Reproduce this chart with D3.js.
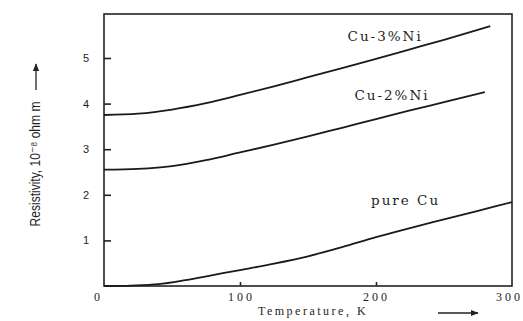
<!DOCTYPE html>
<html>
<head>
<meta charset="utf-8">
<script src="https://cdn.jsdelivr.net/npm/d3@7"></script>
<style>
  html, body { margin: 0; padding: 0; background: #fff; }
  svg { display: block; }
  .frame { fill: none; stroke: #222; stroke-width: 1.6; }
  .curve { fill: none; stroke: #1a1a1a; stroke-width: 1.8; }
  .serif { font-family: 'Liberation Serif', 'DejaVu Serif', serif; fill: #1e1e1e; }
  .wide { font-family: 'DejaVu Serif', 'Liberation Serif', serif; fill: #1e1e1e; }
  .sans { font-family: 'Liberation Sans', 'DejaVu Sans', sans-serif; fill: #1e1e1e; }
</style>
</head>
<body>
<script>
// Data (resistivity in 10^-8 ohm m, temperature in K)
var cu3Temp = [0, 25, 50, 75, 100, 125, 150, 175, 200, 225, 250, 284];
var cu3Val  = [3.75, 3.78, 3.87, 4.01, 4.19, 4.38, 4.58, 4.78, 4.98, 5.19, 5.40, 5.70];

var cu2Temp = [0, 25, 50, 75, 100, 125, 150, 175, 200, 225, 250, 280];
var cu2Val  = [2.55, 2.57, 2.63, 2.76, 2.93, 3.10, 3.28, 3.47, 3.66, 3.85, 4.03, 4.25];

var pureTemp = [0, 20, 40, 60, 80, 100, 125, 150, 175, 200, 225, 250, 275, 300];
var pureVal  = [0, 0.01, 0.04, 0.13, 0.24, 0.35, 0.49, 0.65, 0.85, 1.07, 1.27, 1.46, 1.65, 1.84];

var seriesNames = ['Cu-3%Ni', 'Cu-2%Ni', 'pure Cu'];
var xTickLabels = [0, 100, 200, 300];
var yTickLabels = [1, 2, 3, 4, 5];

// Chart definitions
var width = 523, height = 321;
var plot = { left: 104, right: 512, top: 14, bottom: 286 };

var svg = d3.select('body').append('svg')
  .attr('width', width)
  .attr('height', height);

var x = d3.scaleLinear().domain([0, 300]).range([plot.left, plot.right]);
var y = d3.scaleLinear().domain([0, 5]).range([plot.bottom, 58]);

// Box around the plot
svg.append('rect')
  .attr('class', 'frame')
  .attr('x', plot.left).attr('y', plot.top)
  .attr('width', plot.right - plot.left)
  .attr('height', plot.bottom - plot.top);

// Y axis: ticks point inward, labels sit to the left
var yAxis = svg.append('g')
  .attr('transform', 'translate(' + plot.left + ',0)')
  .call(d3.axisRight(y).tickValues(yTickLabels).tickSize(7).tickFormat(''));
yAxis.select('.domain').remove();
yAxis.selectAll('line').attr('stroke', '#222').attr('stroke-width', 1.6);

svg.selectAll('.ylab').data(yTickLabels).enter()
  .append('text')
  .attr('class', 'ylab sans')
  .attr('x', plot.left - 18)
  .attr('y', d => y(d) + 4)
  .attr('text-anchor', 'middle')
  .style('font-size', '11px')
  .text(d => d);

// X axis: small inward ticks at 100 and 200 only
var xAxis = svg.append('g')
  .attr('transform', 'translate(0,' + plot.bottom + ')')
  .call(d3.axisTop(x).tickValues([100, 200]).tickSize(4).tickFormat(''));
xAxis.select('.domain').remove();
xAxis.selectAll('line').attr('stroke', '#222').attr('stroke-width', 1.6);

/* letter-spacing leaves a trailing gap, so nudge by half of it */
svg.selectAll('.xlab').data(xTickLabels).enter()
  .append('text')
  .attr('class', 'xlab serif')
  .attr('x', (d, i) => x(d) + 1.5 + [-7, 0, -1, -4][i])
  .attr('y', 301)
  .attr('text-anchor', 'middle')
  .style('font-size', '12px')
  .style('letter-spacing', '3px')
  .text(d => d);

// Curves
var line = d3.line()
  .x(d => x(d[0]))
  .y(d => y(d[1]))
  .curve(d3.curveMonotoneX);

var curves = [
  d3.zip(cu3Temp, cu3Val),
  d3.zip(cu2Temp, cu2Val),
  d3.zip(pureTemp, pureVal)
];

svg.selectAll('.curve').data(curves).enter()
  .append('path')
  .attr('class', 'curve')
  .attr('d', line);

// Curve labels (placed by data coordinates)
var labelPos = [[206, 5.37], [211, 4.08], [221, 1.78]];
svg.selectAll('.clab').data(seriesNames).enter()
  .append('text')
  .attr('class', 'clab wide')
  .attr('x', (d, i) => x(labelPos[i][0]) + 1)
  .attr('y', (d, i) => y(labelPos[i][1]))
  .attr('text-anchor', 'middle')
  .style('font-size', '13.5px')
  .style('letter-spacing', '2px')
  .text(d => d);

// Axis titles with their arrows
svg.append('text')
  .attr('class', 'serif')
  .attr('x', 313).attr('y', 315)
  .attr('text-anchor', 'middle')
  .style('font-size', '12px')
  .style('letter-spacing', '2.5px')
  .text('Temperature, K');

svg.append('defs').append('marker')
  .attr('id', 'arrow')
  .attr('viewBox', '0 0 10 10')
  .attr('refX', 9).attr('refY', 5)
  .attr('markerWidth', 7).attr('markerHeight', 6)
  .attr('orient', 'auto')
  .append('path')
  .attr('d', 'M0,1 L10,5 L0,9 z')
  .attr('fill', '#222');

svg.append('line')
  .attr('x1', 438).attr('y1', 313).attr('x2', 478).attr('y2', 313)
  .attr('stroke', '#222').attr('stroke-width', 1.3)
  .attr('marker-end', 'url(#arrow)');

/* The scan uses a condensed face: squeeze a normal sans along the text */
svg.append('text')
  .attr('class', 'sans')
  .attr('transform', 'translate(40,164) rotate(-90) scale(0.86,1)')
  .attr('text-anchor', 'middle')
  .style('font-size', '14px')
  .text('Resistivity, 10\u207B\u2078 ohm m');

svg.append('line')
  .attr('x1', 36).attr('y1', 90).attr('x2', 36).attr('y2', 64)
  .attr('stroke', '#222').attr('stroke-width', 1.3)
  .attr('marker-end', 'url(#arrow)');
</script>
</body>
</html>
